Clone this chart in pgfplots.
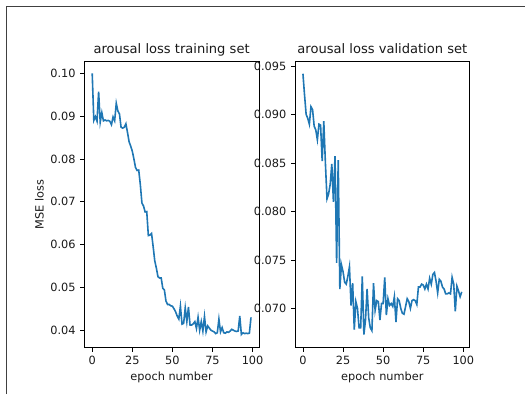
\documentclass[border=0pt]{standalone}
\usepackage{pgfplots}
\pgfplotsset{compat=1.18}
\usepackage{pgfplotstable}
\usepackage{fontspec}
\setmainfont{DejaVu Sans}
\definecolor{mplblue}{HTML}{1F77B4}

\pgfplotstableread{
e v
0 0.1000
1 0.0890
2 0.0899
3 0.0888
4 0.0957
5 0.0886
6 0.0908
7 0.0889
8 0.0891
9 0.0889
10 0.0890
11 0.0888
12 0.0880
13 0.0898
14 0.0889
15 0.0930
16 0.0912
17 0.0905
18 0.0874
19 0.0872
20 0.0874
21 0.0882
22 0.0862
23 0.0840
24 0.0830
25 0.0818
26 0.0800
27 0.0780
28 0.0773
29 0.0774
30 0.0740
31 0.0697
32 0.0690
33 0.0676
34 0.0677
35 0.0621
36 0.0622
37 0.0626
38 0.0595
39 0.0562
40 0.0545
41 0.0525
42 0.0522
43 0.0522
44 0.0498
45 0.0494
46 0.0468
47 0.0460
48 0.0460
49 0.0457
50 0.0456
51 0.0450
52 0.0443
53 0.0433
54 0.0426
55 0.0456
56 0.0414
57 0.0416
58 0.0452
59 0.0420
60 0.0454
61 0.0412
62 0.0412
63 0.0415
64 0.0420
65 0.0404
66 0.0430
67 0.0400
68 0.0420
69 0.0398
70 0.0432
71 0.0396
72 0.0410
73 0.0405
74 0.0400
75 0.0398
76 0.0396
77 0.0392
78 0.0394
79 0.0426
80 0.0396
81 0.0406
82 0.0394
83 0.0393
84 0.0396
85 0.0395
86 0.0398
87 0.0402
88 0.0400
89 0.0398
90 0.0397
91 0.0398
92 0.0433
93 0.0390
94 0.0394
95 0.0392
96 0.0393
97 0.0392
98 0.0393
99 0.0430
}\train

\pgfplotstableread{
e v
0 0.0942
1 0.0920
2 0.0900
3 0.0896
4 0.0890
5 0.0908
6 0.0905
7 0.0888
8 0.0884
9 0.0874
10 0.0890
11 0.0889
12 0.0852
13 0.0893
14 0.0850
15 0.0813
16 0.0818
17 0.0828
18 0.0849
19 0.0810
20 0.0857
21 0.0747
22 0.0853
23 0.0720
24 0.0745
25 0.0738
26 0.0727
27 0.0725
28 0.0733
29 0.0743
30 0.0703
31 0.0726
32 0.0678
33 0.0707
34 0.0700
35 0.0680
36 0.0680
37 0.0733
38 0.0673
39 0.0688
40 0.0720
41 0.0690
42 0.0680
43 0.0677
44 0.0726
45 0.0698
46 0.0708
47 0.0707
48 0.0688
49 0.0705
50 0.0705
51 0.0732
52 0.0693
53 0.0710
54 0.0703
55 0.0705
56 0.0702
57 0.0712
58 0.0686
59 0.0710
60 0.0708
61 0.0700
62 0.0695
63 0.0694
64 0.0702
65 0.0710
66 0.0707
67 0.0700
68 0.0708
69 0.0709
70 0.0708
71 0.0704
72 0.0722
73 0.0722
74 0.0725
75 0.0724
76 0.0720
77 0.0725
78 0.0720
79 0.0731
80 0.0725
81 0.0735
82 0.0737
83 0.0728
84 0.0716
85 0.0730
86 0.0728
87 0.0722
88 0.0720
89 0.0715
90 0.0715
91 0.0716
92 0.0715
93 0.0732
94 0.0725
95 0.0697
96 0.0723
97 0.0718
98 0.0712
99 0.0717
}\valid

\pgfplotsset{
  mplstyle/.style={
    scale only axis,
    width=131pt, height=214.5pt,
    anchor=south west,
    axis line style={line width=0.6pt, black},
    tick style={line width=0.6pt, black},
    tick align=outside,
    major tick length=3pt,
    xtick pos=bottom, ytick pos=left,
    xmin=-4.95, xmax=103.95,
    xtick={0,25,50,75,100},
    ticklabel style={font=\fontsize{8.5}{10}\selectfont, text=black!90},
    label style={font=\fontsize{8.5}{10}\selectfont, text=black!90},
    every axis title shift=0pt,
    title style={font=\fontsize{9.8}{11.5}\selectfont, text=black!90, at={(0.5,1)}, anchor=base, yshift=6.3pt},
    /pgf/number format/assume math mode=true,
    xlabel={epoch number},
    xlabel style={yshift=2pt},
    scaled y ticks=false,
  }
}

\begin{document}
\begin{tikzpicture}
\useasboundingbox (0,0) rectangle (393.75pt,295.5pt);
\draw[line width=0.7pt, black!75] (5.2pt,0pt) -- (5.2pt,290.3pt) -- (393.75pt,290.3pt);

\begin{axis}[mplstyle,
  at={(63.2pt,34.7pt)},
  ymin=0.0359, ymax=0.1027,
  ytick={0.04,0.05,0.06,0.07,0.08,0.09,0.10},
  yticklabel style={/pgf/number format/.cd, fixed, fixed zerofill, precision=2},
  ylabel={MSE loss},
  ylabel style={yshift=-2pt},
  title={arousal loss training set},
]
\addplot[mplblue, line width=1.2pt, no markers] table[x=e, y=v] {\train};
\end{axis}

\begin{axis}[mplstyle,
  at={(221.25pt,34.7pt)},
  ymin=0.06594, ymax=0.09544,
  ytick={0.070,0.075,0.080,0.085,0.090,0.095},
  yticklabel style={/pgf/number format/.cd, fixed, fixed zerofill, precision=3},
  title={arousal loss validation set},
]
\addplot[mplblue, line width=1.2pt, no markers] table[x=e, y=v] {\valid};
\end{axis}
\end{tikzpicture}
\end{document}
